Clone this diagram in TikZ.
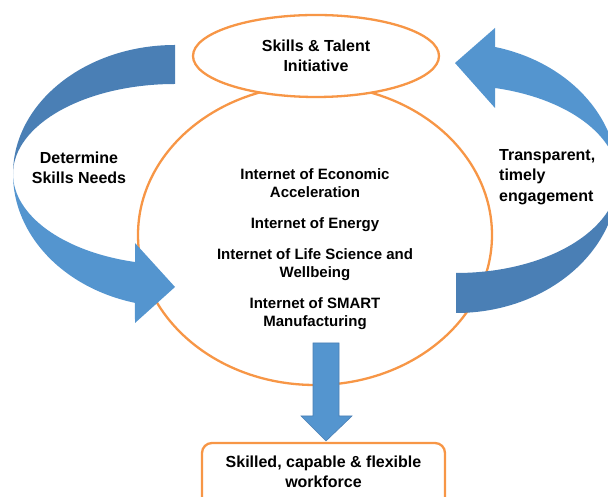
\documentclass[tikz,border=0pt]{standalone}
\usepackage{fontspec}
\setmainfont{Liberation Sans}
\usetikzlibrary{shapes.geometric}
\definecolor{ringorange}{RGB}{247,150,70}
\definecolor{arrowblue}{RGB}{84,149,207}
\definecolor{arrowshade}{RGB}{74,127,181}

\begin{document}
\begin{tikzpicture}[x=1pt,y=1pt,
  ring/.style={draw=ringorange,line width=2.3pt,fill=white,inner sep=0pt},
  lbl/.style={font=\bfseries\fontsize{16}{20.5}\selectfont,align=center,inner sep=0pt},
  mid/.style={font=\bfseries\fontsize{15}{18}\selectfont,align=center,inner sep=0pt}]
\useasboundingbox (0,0) rectangle (608,497);
\clip (0,0) rectangle (608,497);
\node[ring,ellipse,minimum width=354,minimum height=300] (hub) at (315,262) {};
\node[ring,ellipse,minimum width=246,minimum height=82,lbl] (skills) at (316,441) {Skills \& Talent\\Initiative};
% left curved arrow
\fill[arrowshade] (175,452) arc[start angle=90,end angle=180,x radius=162,y radius=129]
  arc[start angle=180,end angle=90,x radius=162,y radius=90] -- cycle;
\fill[arrowblue] (13,323) arc[start angle=180,end angle=255.7,x radius=162,y radius=133]
  -- (135,174) -- (175,210) -- (135,254) -- (135,235)
  arc[start angle=255.7,end angle=180,x radius=162,y radius=91] -- cycle;
% right curved arrow
\fill[arrowshade] (456,184) arc[start angle=270,end angle=360,x radius=162,y radius=135]
  arc[start angle=0,end angle=-90,x radius=162,y radius=95] -- cycle;
\fill[arrowblue] (618,319) arc[start angle=0,end angle=76,x radius=162,y radius=135]
  -- (495,469) -- (455,434) -- (495,389) -- (495,409)
  arc[start angle=76,end angle=0,x radius=162,y radius=93] -- cycle;
% down arrow
\filldraw[fill=arrowblue,draw=arrowshade,line width=0.6pt] (313,154) -- (339,154) -- (339,81) -- (352,81) -- (326,56) -- (301,81) -- (313,81) -- cycle;
\node[ring,rounded corners=10pt,minimum width=243,minimum height=67] (outcome) at (323.5,20.5) {};
\node[lbl] (outcometext) at (323.5,25) {Skilled, capable \& flexible\\workforce};
\node[mid] (areas) at (315,247.5) {Internet of Economic\\Acceleration\\[13pt]Internet of Energy\\[13pt]Internet of Life Science and\\Wellbeing\\[13pt]Internet of SMART\\Manufacturing};
\node[lbl] (needs) at (79,329) {Determine\\Skills Needs};
\node[lbl,align=left,anchor=west] (engage) at (499,320) {Transparent,\\timely\\engagement};
\end{tikzpicture}
\end{document}
